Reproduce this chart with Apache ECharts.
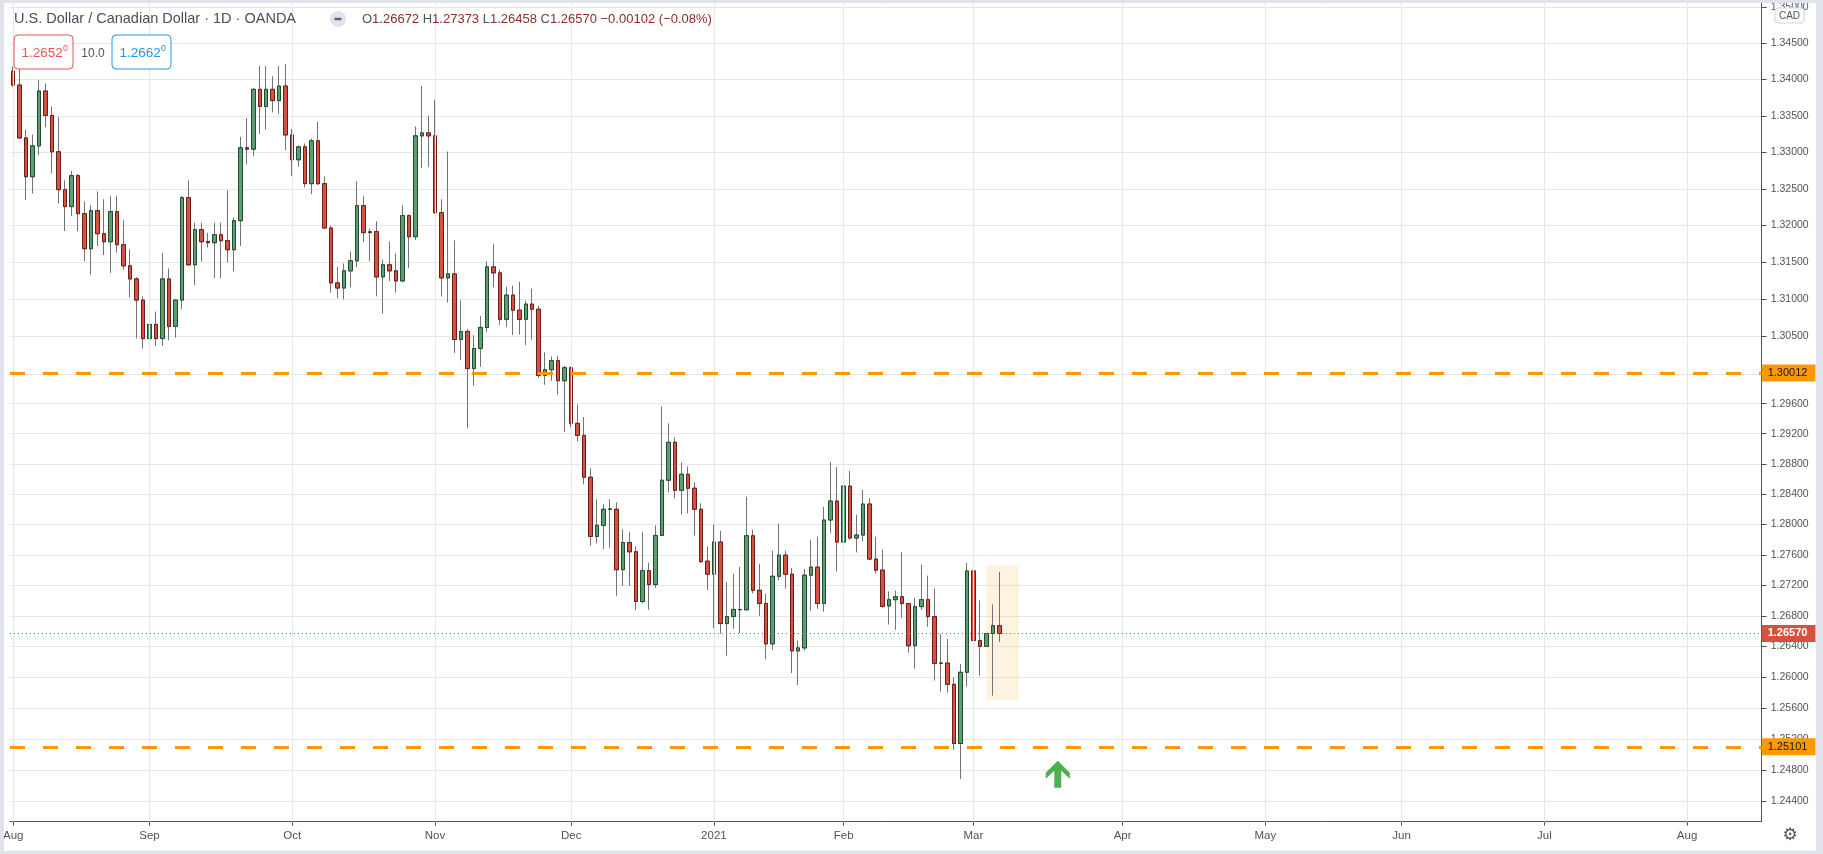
<!DOCTYPE html>
<html><head><meta charset="utf-8">
<script src="https://cdn.jsdelivr.net/npm/echarts@6/dist/echarts.min.js"></script>
<style>html,body{margin:0;padding:0;background:#fff;overflow:hidden}#c{width:1823px;height:854px}</style>
</head><body><div id="c"></div>
<script>
// ---- data: USD/CAD daily candles (OANDA), Aug 3 2020 -> Mar 5 2021 ----
const opens = [
 1.34114,1.33923,1.33196,1.32665,1.33087,1.33841,1.33505,1.33006,1.32488,1.32257,1.32679,1.32161,1.31685,1.32202,1.31889,1.31780,1.32189,1.31739,1.31453,1.31276,1.30990,
 1.30472,1.30663,1.30472,1.31276,1.30636,1.30990,1.32379,1.31467,1.31943,1.31782,1.31766,1.31875,1.31794,1.31671,1.32066,1.33060,1.33042,1.33864,1.33628,1.33864,1.33709,1.33909,
 1.33237,1.32897,1.33074,1.32570,1.33156,1.32570,1.31966,1.31222,1.31153,1.31385,1.31521,1.32270,1.31903,1.31916,1.31303,1.31467,1.31385,1.31249,1.32134,1.31848,1.33224,1.33265,
 1.33224,1.32175,1.31290,1.31344,1.30459,1.30568,1.30070,1.30339,1.30622,1.31439,1.31358,1.30731,1.31058,1.30854,1.30731,1.30936,1.30867,1.29978,1.30054,1.30176,1.29907,
 1.30081,1.29338,1.29179,1.28622,1.27841,1.27987,1.28199,1.28199,1.27404,1.27760,1.27639,1.26987,1.27391,1.27209,1.27854,1.28583,1.29086,1.28450,1.28662,1.28477,1.28199,1.27516,
 1.27345,1.27767,1.26699,1.26791,1.26883,1.26879,1.27850,1.27134,1.26962,1.26435,1.27318,1.27595,1.27345,1.26343,1.26382,1.27332,1.27437,1.26962,1.28057,1.28308,
 1.27767,1.28505,1.27820,1.27859,1.28268,1.27543,1.27398,1.26929,1.27011,1.27050,1.26959,1.26410,1.26920,1.27011,1.26790,1.26181,1.26185,1.25909,1.25144,1.26065,
 1.27387,1.26479,1.26402,1.26570,1.26672
];
const highs = [
 1.34180,1.34209,1.33310,1.33242,1.33991,1.33946,1.33628,1.33482,1.32615,1.32742,1.32700,1.32329,1.32279,1.32465,1.32357,1.32402,1.32402,1.32071,1.31676,1.31300,1.31040,
 1.30867,1.30836,1.31630,1.31417,1.31000,1.32402,1.32615,1.32039,1.32039,1.31900,1.32039,1.32039,1.32479,1.32107,1.33210,1.33469,1.33880,1.34186,1.34186,1.34045,1.34186,1.34209,
 1.33319,1.33090,1.33120,1.33187,1.33419,1.32670,1.31998,1.31439,1.31485,1.31648,1.32602,1.32397,1.31957,1.32057,1.31539,1.31784,1.31621,1.32275,1.32150,1.33351,1.33909,1.33501,
 1.33719,1.32357,1.33010,1.31798,1.30985,1.30600,1.30517,1.30774,1.31512,1.31744,1.31403,1.31172,1.31185,1.31240,1.30981,1.31144,1.30913,1.30288,1.30230,1.30243,1.30108,
 1.30100,1.29589,1.29422,1.28742,1.28331,1.28265,1.28331,1.28291,1.27934,1.27894,1.27709,1.27894,1.27496,1.27987,1.29563,1.29338,1.29152,1.28821,1.28768,1.28556,1.28278,1.27710,
 1.27995,1.27916,1.27244,1.27349,1.27442,1.28365,1.27930,1.27481,1.27086,1.27653,1.28009,1.27653,1.27428,1.26479,1.27415,1.27798,1.27837,1.28233,1.28826,1.28756,
 1.28655,1.28708,1.28127,1.28457,1.28343,1.27837,1.27666,1.27119,1.27132,1.27637,1.26960,1.27037,1.27469,1.27326,1.27158,1.26561,1.26497,1.26000,1.26173,1.27495,
 1.27390,1.27002,1.26575,1.26950,1.27373
];
const lows = [
 1.33900,1.33180,1.32347,1.32438,1.32956,1.33342,1.32711,1.32302,1.31925,1.32130,1.31925,1.31517,1.31335,1.31721,1.31598,1.31358,1.31630,1.31403,1.31026,1.30472,1.30336,
 1.30336,1.30373,1.30373,1.30450,1.30486,1.30867,1.31450,1.31190,1.31512,1.31700,1.31285,1.31285,1.31503,1.31380,1.31721,1.32833,1.32947,1.33251,1.33310,1.33546,1.33523,1.33028,
 1.32674,1.32801,1.32520,1.32429,1.32552,1.31957,1.31094,1.31013,1.30999,1.31163,1.31435,1.31775,1.31517,1.31040,1.30808,1.31244,1.31094,1.31230,1.31421,1.31803,1.32783,1.32797,
 1.32157,1.31040,1.30958,1.30280,1.30181,1.29275,1.29838,1.30092,1.30562,1.31163,1.30654,1.30631,1.30518,1.30527,1.30386,1.30459,1.29943,1.29854,1.29907,1.29722,1.29227,
 1.29285,1.29095,1.28530,1.27717,1.27748,1.27673,1.27691,1.27061,1.27191,1.27191,1.26878,1.26961,1.26878,1.27165,1.27850,1.28424,1.28344,1.28132,1.28146,1.27854,1.27492,1.27138,
 1.26641,1.26567,1.26281,1.26633,1.26576,1.26875,1.27094,1.26800,1.26233,1.26356,1.27261,1.27156,1.26056,1.25900,1.26347,1.26866,1.26892,1.26853,1.27881,1.27380,
 1.27622,1.27798,1.27631,1.27776,1.27534,1.27354,1.26905,1.26687,1.26618,1.26773,1.26320,1.26112,1.26877,1.26656,1.25957,1.25814,1.25801,1.25062,1.24687,1.25879,
 1.26423,1.26021,1.26400,1.25762,1.26458
];
const closes = [
 1.33923,1.33196,1.32665,1.33087,1.33841,1.33505,1.33006,1.32488,1.32257,1.32679,1.32161,1.31685,1.32202,1.31889,1.31780,1.32189,1.31739,1.31453,1.31276,1.30990,1.30472,
 1.30663,1.30472,1.31276,1.30636,1.30990,1.32379,1.31467,1.31943,1.31780,1.31766,1.31875,1.31794,1.31671,1.32066,1.33060,1.33042,1.33864,1.33628,1.33864,1.33709,1.33909,1.33237,
 1.32897,1.33074,1.32570,1.33156,1.32570,1.31966,1.31222,1.31153,1.31385,1.31521,1.32270,1.31903,1.31916,1.31303,1.31467,1.31385,1.31249,1.32134,1.31848,1.33224,1.33265,1.33224,
 1.32175,1.31290,1.31344,1.30459,1.30568,1.30070,1.30339,1.30622,1.31439,1.31358,1.30731,1.31058,1.30854,1.30731,1.30936,1.30867,1.29978,1.30054,1.30176,1.29907,1.30081,
 1.29338,1.29179,1.28622,1.27841,1.27987,1.28199,1.28203,1.27404,1.27760,1.27639,1.26987,1.27391,1.27209,1.27854,1.28583,1.29086,1.28450,1.28662,1.28477,1.28199,1.27510,1.27345,
 1.27767,1.26699,1.26791,1.26883,1.26879,1.27850,1.27134,1.26962,1.26435,1.27318,1.27595,1.27345,1.26343,1.26382,1.27332,1.27437,1.26962,1.28057,1.28308,1.27767,
 1.28505,1.27820,1.27859,1.28268,1.27543,1.27398,1.26923,1.27011,1.27050,1.26959,1.26410,1.26920,1.27011,1.26790,1.26181,1.26185,1.25909,1.25144,1.26065,1.27387,
 1.26479,1.26402,1.26570,1.26672,1.26570
];
// calendar of the time scale (weekdays; these holidays have no bar)
const firstDay = [2020, 7, 3];            // 2020-08-03 (UTC, month 0-based)
const lastBarDay = '2021-03-05';
const holidays = ['2020-12-25', '2021-01-01'];
const totalSlots = 270;                  // bars + empty future space on the time scale
const monthTicks = [
 ['2020-08-03','Aug'],['2020-09-01','Sep'],['2020-10-01','Oct'],['2020-11-02','Nov'],
 ['2020-12-01','Dec'],['2021-01-04','2021'],['2021-02-01','Feb'],['2021-03-01','Mar'],
 ['2021-04-01','Apr'],['2021-05-03','May'],['2021-06-01','Jun'],['2021-07-01','Jul'],['2021-08-02','Aug']
];
const priceTicks = [1.350,1.345,1.340,1.335,1.330,1.325,1.320,1.315,1.310,1.305,1.300,
 1.296,1.292,1.288,1.284,1.280,1.276,1.272,1.268,1.264,1.260,1.256,1.252,1.248,1.244];
const levels = [1.30012, 1.25101];        // horizontal support / resistance lines
const highlight = {from:'2021-03-03', to:'2021-03-10', top:1.27461, bottom:1.25707};
const arrowPoint = ['2021-03-18', 1.2475];
const bidText = '1.2652', askText = '1.2662', spreadText = '10.0';
const yMin = 1.241404, yMax = 1.351010;   // logarithmic price scale range

// ---- build ----
const dates = [];
{
  const d = new Date(Date.UTC(firstDay[0], firstDay[1], firstDay[2]));
  while (dates.length < totalSlots) {
    const wd = d.getUTCDay();
    const s = d.toISOString().slice(0, 10);
    if (wd !== 0 && wd !== 6 && !(s <= lastBarDay && holidays.indexOf(s) >= 0)) dates.push(s);
    d.setUTCDate(d.getUTCDate() + 1);
  }
}
const tickMap = new Map(monthTicks);
const fullData = opens.map((o, i) => [o, closes[i], lows[i], highs[i]]);
const bodyData = opens.map((o, i) => [o, closes[i], Math.min(o, closes[i]), Math.max(o, closes[i])]);
const n = opens.length;
const lastC = closes[n - 1], prevC = closes[n - 2];
const chg = lastC - prevC;
const fmt5 = v => Number(v).toFixed(5);
const sign = v => (v < 0 ? '\u2212' : '+');
const chgStr = sign(chg) + Math.abs(chg).toFixed(5) + ' (' + sign(chg) + Math.abs(chg / prevC * 100).toFixed(2) + '%)';

const FONT = '"Liberation Sans", Arial, sans-serif';
const AX = '#50535e';
const UP = '#5e9c76', DOWN = '#d6523e', UPB = '#1f4d2c', DOWNB = '#6b1d1d', WICK = '#737373';

const chart = echarts.init(document.getElementById('c'), null, {renderer: 'canvas'});
const option = {
  animation: false,
  backgroundColor: '#ffffff',
  textStyle: {fontFamily: FONT},
  grid: {left: 1.74, right: 61.3, top: 0, bottom: 32.3},
  xAxis: {
    type: 'category', data: dates, boundaryGap: true,
    axisLine: {show: true, lineStyle: {color: AX, width: 1}},
    axisTick: {show: true, alignWithLabel: true, length: 4, interval: (i, v) => tickMap.has(v), lineStyle: {color: AX}},
    axisLabel: {interval: (i, v) => tickMap.has(v), formatter: v => tickMap.get(v) || '', color: AX, fontSize: 11.5, margin: 8, fontFamily: FONT,
      alignMinLabel: 'center', alignMaxLabel: 'center'},
    splitLine: {show: false}
  },
  yAxis: {
    type: 'log', logBase: 10, position: 'right', min: yMin, max: yMax,
    axisLine: {show: true, lineStyle: {color: AX, width: 1}},
    axisTick: {show: true, length: 5, customValues: priceTicks, lineStyle: {color: AX}},
    axisLabel: {customValues: priceTicks, formatter: v => fmt5(v), margin: 9, color: AX, fontSize: 10.5, fontFamily: FONT},
    splitLine: {show: true, lineStyle: {color: '#e6e6e6', width: 1}},
    minorTick: {show: false}, minorSplitLine: {show: false}
  },
  series: [
    { // vertical month grid lines
      type: 'line', data: [], z: 1, silent: true,
      markLine: {
        silent: true, symbol: ['none', 'none'], animation: false,
        label: {show: false},
        lineStyle: {color: '#e6e6e6', type: 'solid', width: 1},
        data: monthTicks.map(t => ({xAxis: t[0]}))
      }
    },
    { // wicks
      type: 'candlestick', data: fullData, z: 2, silent: true, barWidth: 4,
      itemStyle: {color: UP, color0: DOWN, borderColor: WICK, borderColor0: WICK, borderColorDoji: WICK, borderWidth: 1}
    },
    { // bodies
      type: 'candlestick', data: bodyData, z: 3, silent: true, barWidth: 4,
      itemStyle: {color: UP, color0: DOWN, borderColor: UPB, borderColor0: DOWNB, borderColorDoji: UPB, borderWidth: 1}
    },
    { // annotations
      type: 'line', data: [], z: 5, silent: true,
      markArea: {
        silent: true,
        itemStyle: {color: 'rgba(250,212,145,0.28)'},
        data: [[{xAxis: highlight.from, yAxis: highlight.top}, {xAxis: highlight.to, yAxis: highlight.bottom}]]
      },
      markLine: {
        silent: true, symbol: ['none', 'none'], animation: false, precision: 5,
        data: levels.map(v => ({
          yAxis: v,
          lineStyle: {color: '#ff9800', type: [15, 18], width: 3},
          label: {show: true, position: 'end', distance: 0, formatter: () => fmt5(v),
            backgroundColor: '#ff9800', color: '#131722', fontSize: 11, fontFamily: FONT, padding: [3, 8, 3, 6]}
        })).concat([{
          yAxis: lastC,
          lineStyle: {color: '#d8503e', type: [1, 3], width: 1},
          label: {show: true, position: 'end', distance: 0, formatter: () => fmt5(lastC),
            backgroundColor: '#d8503e', color: '#ffffff', fontWeight: 'bold', fontSize: 11, fontFamily: FONT, padding: [3, 8, 3, 6]}
        }])
      },
      markPoint: {
        silent: true,
        data: [{coord: arrowPoint, symbol: 'path://M12 0 L24 12 L24 18 L15.5 10 L15.5 27 L8.5 27 L8.5 10 L0 18 L0 12 Z',
          symbolSize: [24, 27], itemStyle: {color: '#4caf50'}, label: {show: false}}]
      }
    }
  ],
  graphic: [
    {type: 'rect', shape: {x: 0, y: 0, width: 4, height: 854}, style: {fill: '#e0e3eb'}, z: 100, silent: true},
    {type: 'rect', shape: {x: 0, y: 0, width: 1823, height: 3}, style: {fill: '#e0e3eb'}, z: 100, silent: true},
    {type: 'rect', shape: {x: 1816, y: 0, width: 7, height: 854}, style: {fill: '#e0e3eb'}, z: 100, silent: true},
    {type: 'rect', shape: {x: 0, y: 851, width: 1823, height: 3}, style: {fill: '#e0e3eb'}, z: 100, silent: true},
    {type: 'text', x: 14, y: 19, z: 100, silent: true,
      style: {text: 'U.S. Dollar / Canadian Dollar \u00b7 1D \u00b7 OANDA', fill: '#4a4e59', fontSize: 14.5, fontFamily: FONT, verticalAlign: 'middle'}},
    {type: 'circle', shape: {cx: 338, cy: 19, r: 8}, style: {fill: '#e0e3eb'}, z: 100, silent: true},
    {type: 'rect', shape: {x: 334.5, y: 17.8, width: 7, height: 2.4}, style: {fill: '#5d606b'}, z: 101, silent: true},
    {type: 'text', x: 362, y: 19, z: 100, silent: true,
      style: {
        text: '{g|O}{r|' + fmt5(opens[n-1]) + '} {g|H}{r|' + fmt5(highs[n-1]) + '} {g|L}{r|' + fmt5(lows[n-1]) + '} {g|C}{r|' + fmt5(lastC) + '} {r|' + chgStr + '}',
        verticalAlign: 'middle', fontSize: 13, fontFamily: FONT,
        rich: {g: {fill: '#50535e', fontSize: 13, fontFamily: FONT}, r: {fill: '#8c2b2b', fontSize: 13, fontFamily: FONT}}
      }},
    {type: 'rect', shape: {x: 14, y: 35, width: 59, height: 34, r: 4}, style: {fill: '#ffffff', stroke: '#ef5350', lineWidth: 1}, z: 100, silent: true},
    {type: 'text', x: 21.5, y: 53.5, z: 101, silent: true, style: {text: bidText, fill: '#ef5350', fontSize: 13.5, fontFamily: FONT, verticalAlign: 'middle'}},
    {type: 'text', x: 63, y: 49, z: 101, silent: true, style: {text: '0', fill: '#ef5350', fontSize: 9, fontFamily: FONT, verticalAlign: 'middle'}},
    {type: 'text', x: 93, y: 53.5, z: 101, silent: true, style: {text: spreadText, fill: '#50535e', fontSize: 12, fontFamily: FONT, verticalAlign: 'middle', align: 'center'}},
    {type: 'rect', shape: {x: 112, y: 35, width: 59, height: 34, r: 4}, style: {fill: '#ffffff', stroke: '#2196f3', lineWidth: 1}, z: 100, silent: true},
    {type: 'text', x: 119.5, y: 53.5, z: 101, silent: true, style: {text: askText, fill: '#2196f3', fontSize: 13.5, fontFamily: FONT, verticalAlign: 'middle'}},
    {type: 'text', x: 161, y: 49, z: 101, silent: true, style: {text: '0', fill: '#2196f3', fontSize: 9, fontFamily: FONT, verticalAlign: 'middle'}},
    {type: 'rect', shape: {x: 1775, y: 8, width: 29, height: 15, r: 3}, style: {fill: '#ffffff', stroke: '#d1d4dc', lineWidth: 1}, z: 100, silent: true},
    {type: 'text', x: 1789.5, y: 15.8, z: 101, silent: true, style: {text: 'CAD', fill: '#50535e', fontSize: 10, fontFamily: FONT, align: 'center', verticalAlign: 'middle'}},
    {type: 'text', x: 1790, y: 836, z: 101, silent: true, style: {text: '\u2699', fill: '#50535e', fontSize: 17, fontFamily: '"DejaVu Sans", sans-serif', align: 'center', verticalAlign: 'middle'}}
  ]
};
chart.setOption(option);
</script>
</body></html>
